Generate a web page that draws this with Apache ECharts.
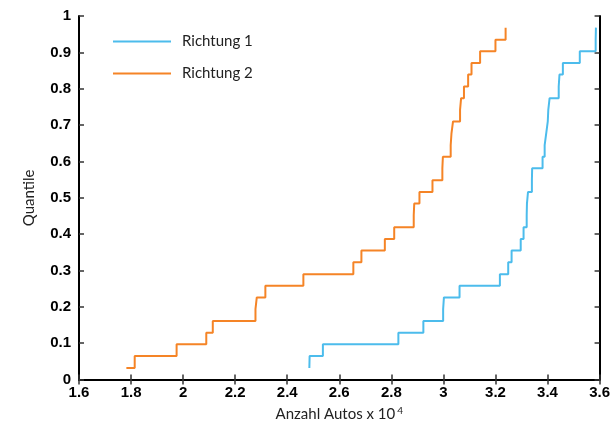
<!DOCTYPE html>
<html>
<head>
    <meta charset="utf-8">
    <title>Quantile</title>
    <script src="https://cdn.jsdelivr.net/npm/echarts@6/dist/echarts.min.js"></script>
</head>
<body style="margin:0">
    <div id="main" style="width:613px;height:427px;"></div>
    <script type="text/javascript">
        // Quantil-Stufen (y) und sortierte Werte je Richtung (x, in 10^4)
        var quantile = [0.032, 0.065, 0.097, 0.129, 0.161, 0.194, 0.226, 0.258, 0.290, 0.323,
                        0.355, 0.387, 0.419, 0.452, 0.484, 0.516, 0.548, 0.581, 0.613, 0.645,
                        0.677, 0.710, 0.742, 0.774, 0.806, 0.839, 0.871, 0.903, 0.935, 0.968];
        var richtung1 = [2.485, 2.486, 2.537, 2.827, 2.923, 2.999, 3.002, 3.062, 3.217, 3.249,
                         3.262, 3.297, 3.308, 3.320, 3.321, 3.325, 3.340, 3.341, 3.381, 3.389,
                         3.395, 3.401, 3.403, 3.408, 3.443, 3.446, 3.459, 3.524, 3.585, 3.586];
        var richtung2 = [1.782, 1.814, 1.975, 2.089, 2.114, 2.278, 2.283, 2.316, 2.462, 2.654,
                         2.685, 2.775, 2.811, 2.886, 2.888, 2.908, 2.958, 2.996, 2.998, 3.028,
                         3.031, 3.037, 3.064, 3.068, 3.079, 3.095, 3.108, 3.141, 3.200, 3.239];
        var seriesNames = ['Richtung 1', 'Richtung 2'];
        var colors = ['#4cbcec', '#f58426'];

        function pairs(xs) {
            var out = [];
            for (var i = 0; i < xs.length; i++) {
                out.push([xs[i], quantile[i]]);
            }
            return out;
        }

        var tickFont = {color: '#000', fontFamily: 'Liberation Sans', fontWeight: 'bold', fontSize: 15};
        var nameFont = {color: '#222', fontFamily: 'Lato', fontSize: 15};
        var tickStyle = {inside: true, length: 5, lineStyle: {color: '#333', width: 1.5}};

        var myChart = echarts.init(document.getElementById('main'));
        var option = {
            animation: false,
            color: colors,
            grid: {left: 79, right: 11, top: 16, bottom: 41},
            legend: {
                orient: 'vertical',
                left: 113,
                top: 34,
                padding: 0,
                itemGap: 17,
                itemWidth: 58,
                itemHeight: 2,
                icon: 'rect',
                data: seriesNames,
                textStyle: {color: '#222', fontFamily: 'Lato', fontSize: 15, padding: [0, 0, 0, 6]}
            },
            xAxis: [
                {
                    type: 'value', min: 1.6, max: 3.6, interval: 0.2,
                    name: 'Anzahl Autos x 10{sup|4}',
                    nameLocation: 'middle', nameGap: 17,
                    nameTextStyle: {
                        color: '#222', fontFamily: 'Lato', fontSize: 15,
                        rich: {sup: {fontFamily: 'Lato', fontSize: 10, color: '#222', verticalAlign: 'top', padding: [0, 0, 8, 2]}}
                    },
                    axisLine: {lineStyle: {color: '#000', width: 2}},
                    axisTick: tickStyle,
                    axisLabel: Object.assign({margin: 6}, tickFont),
                    splitLine: {show: false}
                },
                {
                    type: 'value', min: 1.6, max: 3.6, interval: 0.2, position: 'top',
                    axisLine: {lineStyle: {color: '#000', width: 2}},
                    axisTick: tickStyle,
                    axisLabel: {show: false},
                    splitLine: {show: false}
                }
            ],
            yAxis: [
                {
                    type: 'value', min: 0, max: 1, interval: 0.1,
                    name: 'Quantile',
                    nameLocation: 'middle', nameGap: 42,
                    nameTextStyle: nameFont,
                    axisLine: {lineStyle: {color: '#000', width: 2}},
                    axisTick: tickStyle,
                    axisLabel: Object.assign({margin: 8}, tickFont),
                    splitLine: {show: false}
                },
                {
                    type: 'value', min: 0, max: 1, interval: 0.1, position: 'right',
                    axisLine: {lineStyle: {color: '#000', width: 2}},
                    axisTick: tickStyle,
                    axisLabel: {show: false},
                    splitLine: {show: false}
                }
            ],
            series: [
                {
                    name: seriesNames[0], type: 'line', step: 'end',
                    showSymbol: false, lineStyle: {width: 2},
                    data: pairs(richtung1)
                },
                {
                    name: seriesNames[1], type: 'line', step: 'end',
                    showSymbol: false, lineStyle: {width: 2},
                    data: pairs(richtung2)
                }
            ]
        };
        myChart.setOption(option);
    </script>
</body>
</html>
